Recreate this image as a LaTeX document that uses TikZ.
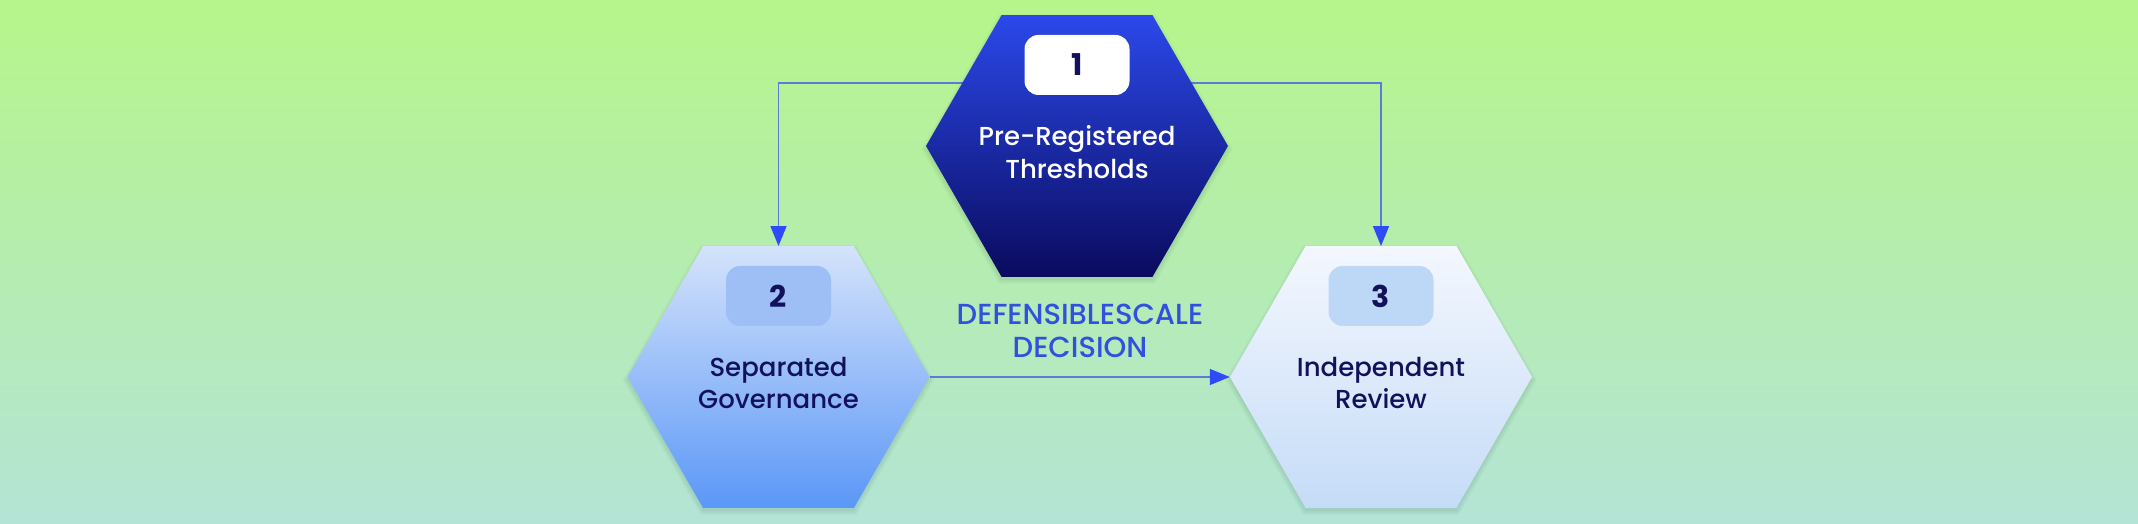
\documentclass[tikz,border=0pt]{standalone}
\usepackage{fontspec}
\setmainfont{Poppins}[UprightFont=* Medium, BoldFont=* Bold]
\usetikzlibrary{shapes.geometric,arrows.meta,calc}
\pgfdeclarelayer{background}
\pgfsetlayers{background,main}
\definecolor{bgtop}{HTML}{B6F58A}
\definecolor{bgbot}{HTML}{B4E4D6}
\definecolor{hAtop}{HTML}{2B48EA}
\definecolor{hAbot}{HTML}{0A0B5E}
\definecolor{hBtop}{HTML}{D4E3FB}
\definecolor{hBbot}{HTML}{5B97F7}
\definecolor{hCtop}{HTML}{F4F7FE}
\definecolor{hCbot}{HTML}{C5DCF7}
\definecolor{badgeB}{HTML}{9DBFF6}
\definecolor{badgeC}{HTML}{BDD7F6}
\definecolor{navy}{HTML}{12125C}
\definecolor{lblblue}{HTML}{3150E0}
\definecolor{linecol}{HTML}{5A7BD6}
\definecolor{tipcol}{HTML}{2F4BF7}
\tikzset{
  hexbox/.style={regular polygon, regular polygon sides=6, minimum size=302pt, inner sep=0pt},
  hexshadow/.style={regular polygon, regular polygon sides=6, inner sep=0pt, fill=black!70!teal, opacity=0.035},
  badgebox/.style={rounded corners=14pt, minimum width=105pt, minimum height=60pt, inner sep=0pt,
    font=\fontsize{30}{30}\selectfont\bfseries},
  hextext/.style={align=center, font=\fontsize{26}{33}\selectfont},
  conn/.style={draw=linecol, line width=1.5pt, -{Triangle[length=20pt,width=16pt,color=tipcol]}},
}
\begin{document}
\begin{tikzpicture}[x=1pt,y=1pt]
\useasboundingbox (0,0) rectangle (2138,524);
% soft shadows
\foreach \c/\yy in {1077/378, 778.5/147, 1381/147}{
  \foreach \s in {303,307,311}{
    \node[hexshadow, minimum size=\s pt] at (\c,\yy-3) {};
  }
}
% hexagons
\node[hexbox, top color=hAtop, bottom color=hAbot] (h1) at (1077,378) {};
\node[hexbox, top color=hBtop, bottom color=hBbot] (h2) at (778.5,147) {};
\node[hexbox, top color=hCtop, bottom color=hCbot] (h3) at (1381,147) {};
% badges
\node[badgebox, fill=white, text=navy] (b1) at ($(h1.center)+(0,81)$) {1};
\node[badgebox, fill=badgeB, text=navy] (b2) at ($(h2.center)+(0,81)$) {2};
\node[badgebox, fill=badgeC, text=navy] (b3) at ($(h3.center)+(0,81)$) {3};
% texts
\node[hextext, text=white] (t1) at ($(h1.center)+(0,-6)$) {Pre-Registered\\Thresholds};
\node[hextext, text=navy] (t2) at ($(h2.center)+(0,-6)$) {Separated\\Governance};
\node[hextext, text=navy] (t3) at ($(h3.center)+(0,-6)$) {Independent\\Review};
% label
\node[align=center, text=lblblue, font=\fontsize{29}{33}\selectfont] (lbl) at (1080,193) {DEFENSIBLESCALE\\DECISION};
% background and connectors behind the hexagons
\begin{pgfonlayer}{background}
\shade[top color=bgtop, bottom color=bgbot] (0,0) rectangle (2138,524);
\draw[conn] ([yshift=63pt]h1.center) -| (h2.north);
\draw[conn] ([yshift=63pt]h1.center) -| (h3.north);
\end{pgfonlayer}
\draw[conn] (h2.east) -- (h3.west);
\end{tikzpicture}
\end{document}
